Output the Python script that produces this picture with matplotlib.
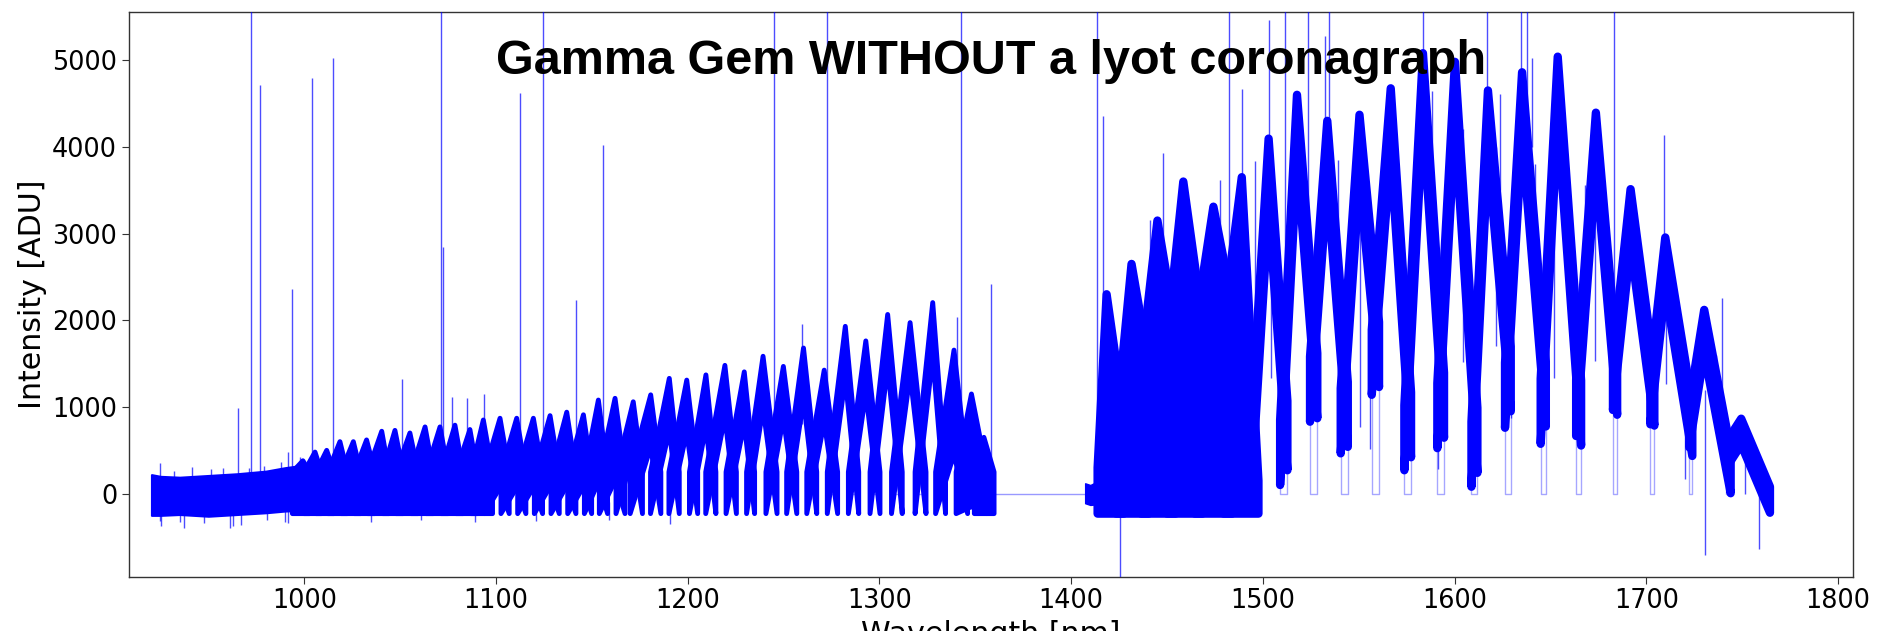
import matplotlib
matplotlib.use("Agg")
import matplotlib.pyplot as plt

# ---- spectrum data (wavelength in nm, intensity in ADU) ----

# 920-1000 nm: the orders blur into a single noise band
band_wl = [920.3, 925.0, 935.0, 950.0, 965.0, 980.0, 990.0, 1000.0]
band_hi = [220, 200, 190, 210, 230, 260, 300, 330]
band_lo = [-250, -250, -240, -260, -240, -220, -200, -190]

# zero fill over the detector gap, then a short noisy stretch
gap_wl = [1359.8, 1407.3]
tail_wl = [1407.3, 1410.0, 1414.5]
tail_hi = [120, 100, 150]
tail_lo = [-110, -130, -120]

# blue half: echelle orders (start, blaze peak, end) and peak counts
blue_start = [993.8, 999.8, 1006.1, 1012.2, 1019.1, 1026.1, 1033.0, 1040.9, 1047.8, 1055.6,
              1063.5, 1071.3, 1079.1, 1086.9, 1093.9, 1102.6, 1111.3, 1120.0, 1128.7, 1137.4,
              1146.1, 1153.9, 1162.6, 1170.0, 1180.6, 1190.2, 1200.9, 1209.4, 1220.0, 1230.7,
              1240.8, 1251.6, 1262.1, 1272.8, 1283.8, 1295.1, 1306.3, 1318.6, 1329.3, 1340.0,
              1349.5]
blue_peak_wl = [999.3, 1005.6, 1011.7, 1018.6, 1025.6, 1032.5, 1040.4, 1047.3, 1055.1, 1063.0,
                1070.8, 1078.6, 1086.4, 1093.4, 1102.1, 1110.8, 1119.5, 1128.2, 1136.9, 1145.6,
                1153.4, 1162.1, 1171.6, 1180.7, 1190.4, 1199.5, 1209.5, 1219.4, 1229.5, 1239.3,
                1249.9, 1260.4, 1271.2, 1282.2, 1292.9, 1304.3, 1316.0, 1327.8, 1338.9, 1348.0,
                1354.5]
blue_end = [1002.8, 1009.0, 1015.5, 1022.5, 1029.4, 1036.8, 1044.2, 1051.6, 1059.4, 1067.3,
            1075.1, 1082.9, 1090.3, 1098.2, 1106.9, 1115.6, 1124.3, 1133.0, 1141.7, 1149.9,
            1158.2, 1167.3, 1176.4, 1186.0, 1195.6, 1205.2, 1214.7, 1225.4, 1234.9, 1246.6,
            1256.9, 1267.3, 1278.2, 1289.2, 1300.3, 1311.9, 1324.3, 1334.5, 1346.0, 1356.0,
            1359.8]
blue_peak = [380, 480, 500, 600, 600, 620, 720, 730, 700, 770,
             770, 790, 740, 850, 870, 870, 870, 900, 940, 910,
             1080, 1100, 1060, 1140, 1330, 1310, 1370, 1480, 1405, 1585,
             1468, 1680, 1425, 1930, 1762, 2067, 1973, 2204, 1656, 1150,
             650]
blue_spread = [610, 710, 730, 830, 830, 850, 950, 960, 930, 1000,
               1000, 1020, 970, 1080, 800, 800, 800, 820, 850, 830,
               950, 950, 600, 600, 600, 600, 600, 600, 600, 600,
               600, 600, 600, 600, 600, 600, 600, 620, 1200, 1300,
               1100]
blue_edge = 250

# red half: orders 1414-1500 nm sit in the water band and fill down to the noise floor
red_start = [1413.8, 1423.5, 1436.5, 1450.0, 1464.5, 1479.5, 1493.3, 1509.0, 1524.6, 1540.6,
             1556.8, 1573.8, 1591.0, 1608.8, 1626.3, 1644.9, 1663.4, 1682.6, 1702.1, 1722.4,
             1741.8]
red_peak_wl = [1418.5, 1431.5, 1445.0, 1458.5, 1474.2, 1489.0, 1503.0, 1517.8, 1533.6, 1550.4,
               1566.7, 1583.5, 1600.2, 1617.4, 1635.2, 1653.8, 1673.7, 1691.8, 1709.9, 1730.2,
               1749.5]
red_end = [1427.5, 1440.5, 1454.5, 1468.5, 1484.0, 1497.7, 1512.8, 1528.4, 1544.3, 1560.6,
           1577.3, 1594.5, 1611.9, 1629.3, 1647.6, 1666.0, 1684.8, 1704.2, 1724.0, 1744.0,
           1764.5]
red_start_val = [300, 800, 1500, 1800, 1900, 2000, 600, 850, 1580, 1215,
                 1890, 1020, 1275, 830, 1510, 1325, 1315, 1615, 1400, 1035,
                 600]
red_peak = [2300, 2650, 3150, 3600, 3310, 3650, 4095, 4600, 4300, 4370,
            4675, 5080, 4980, 4650, 4860, 5040, 4394, 3512, 2955, 2120,
            865]
red_end_val = [900, 1500, 1900, 2000, 2200, 150, 1070, 1620, 1290, 1980,
               1170, 1395, 990, 1700, 1525, 1305, 1560, 1435, 1035, 505,
               80]
red_spread = [5000, 5000, 5000, 5000, 5000, 5000, 800, 750, 750, 750,
              750, 750, 750, 750, 750, 750, 650, 650, 600, 500,
              300]

noise_floor = -230

# cosmic rays, deep telluric lines and the strongest noise excursions
spike_wl = [965.3, 972.2, 976.7, 993.7, 1004.2, 1015.2, 1051.2, 1071.5, 1072.3, 1077.2,
            1085.0, 1093.6, 1112.5, 1124.6, 1141.7, 1155.8, 1245.0, 1259.5, 1272.6, 1340.3,
            1342.7, 1358.0, 1413.4, 1416.6, 1425.5, 1441.2, 1448.1, 1477.7, 1482.3, 1489.2,
            1495.7, 1503.0, 1504.0, 1511.6, 1523.7, 1527.1, 1532.5, 1534.6, 1550.6, 1555.9,
            1574.3, 1583.4, 1588.1, 1591.6, 1604.3, 1616.7, 1621.4, 1623.7, 1629.5, 1634.4,
            1637.8, 1640.5, 1641.7, 1651.9, 1665.5, 1670.7, 1673.3, 1683.0, 1709.3, 1710.3,
            1720.1, 1730.8, 1736.6, 1739.3, 1751.7, 1758.9, 1539.4, 1668.0,
            924.5, 935.0, 963.0, 990.0, 1035.0, 1061.0, 1089.0, 1121.0, 1159.0, 1191.0,
            924.7, 932.0, 941.6, 951.1, 957.7, 971.0, 979.0, 987.7, 991.5, 998.0,
            925.5, 937.1, 947.6, 961.1, 967.0, 980.6, 991.4]
spike_lo = [100, 100, 120, 150, 200, 250, 400, 400, 400, 400,
            400, 450, 450, 450, 500, 500, 600, 800, 600, 500,
            500, 100, 0, 0, -960, 1500, 1500, 2000, 2000, 3000,
            1500, 3500, 1330, 1000, 1500, 1430, 3500, 3500, 770, 520,
            900, 4000, 3500, 280, 1520, 4000, 1700, 3500, 870, 4200,
            4200, 4000, 2450, 1330, 1180, 3000, 1530, 1000, 2500, 1270,
            170, -710, 700, 800, 0, -640, 3000, 2800,
            -320, -330, -370, -330, -330, -300, -330, -320, -300, -350,
            150, 150, 150, 150, 150, 150, 150, 200, 250, 250,
            -375, -390, -340, -400, -360, -300, -340]
spike_hi = [990, 5600, 4710, 2365, 4790, 5020, 1320, 5600, 2840, 1120,
            1100, 1150, 4620, 5600, 2230, 4020, 5600, 1960, 5600, 2040,
            5600, 2420, 5600, 4360, 1000, 3160, 3930, 3620, 5600, 4670,
            3840, 5460, 3500, 5600, 5600, 2200, 5280, 5600, 4000, 2500,
            1800, 5600, 4640, 1900, 4200, 5600, 4000, 4610, 1900, 5600,
            5600, 5020, 3800, 4600, 1800, 3850, 4000, 5600, 4140, 2800,
            1500, 1200, 1600, 2260, 800, 300, 3850, 3560,
            -100, -100, -100, -100, -100, -100, -100, -100, -100, -100,
            357, 260, 306, 280, 300, 300, 320, 360, 475, 420,
            -200, -200, -200, -200, -200, -200, -200]

BLUE = "#0000ff"


def draw_orders(ax, starts, peaks_wl, ends, start_vals, peak_vals, end_vals, spreads, lw):
    """每个衍射级画成一条带状多边形，相邻级之间用 0 值的细线相连。"""
    lowers = []
    for s, p, e, vs, vp, ve, sp in zip(starts, peaks_wl, ends,
                                       start_vals, peak_vals, end_vals, spreads):
        upper = [vs, vp, ve]
        lower = [max(v - sp, noise_floor) for v in upper]
        lowers.append(lower)
        ax.fill([s, p, e, e, p, s], upper + lower[::-1], facecolor=BLUE,
                edgecolor=BLUE, linewidth=lw, joinstyle="round", zorder=2)

    # 级间的补零段
    for k in range(len(starts) - 1):
        ax.plot([ends[k], ends[k], starts[k + 1], starts[k + 1]],
                [lowers[k][2], 0, 0, lowers[k + 1][0]],
                color=BLUE, lw=1.0, alpha=0.35, zorder=1)


def main():
    plt.rcParams["font.family"] = ["DejaVu Sans"]

    fig = plt.figure(figsize=(18.81, 6.31), dpi=100)
    ax = fig.add_axes([0.0686, 0.0861, 0.9164, 0.8949])

    ax.fill_between(band_wl, band_lo, band_hi, color=BLUE, lw=1.5, zorder=2)
    ax.fill_between(tail_wl, tail_lo, tail_hi, color=BLUE, lw=1.0, zorder=2)
    ax.plot(gap_wl, [0, 0], color=BLUE, lw=1.0, alpha=0.4, zorder=1)

    n_blue = len(blue_start)
    draw_orders(ax, blue_start, blue_peak_wl, blue_end,
                [blue_edge] * n_blue, blue_peak, [blue_edge] * n_blue, blue_spread, lw=3.5)
    draw_orders(ax, red_start, red_peak_wl, red_end,
                red_start_val, red_peak, red_end_val, red_spread, lw=6.0)

    ax.vlines(spike_wl, spike_lo, spike_hi, color=BLUE, lw=1.0, alpha=0.7, zorder=3)

    ax.set_xlim(908.6, 1807.7)
    ax.set_ylim(-957, 5555)
    ax.set_xticks(range(1000, 1801, 100))
    ax.set_yticks(range(0, 5001, 1000))
    ax.tick_params(labelsize=18.4, length=5, color="#333333")
    for spine in ax.spines.values():
        spine.set_color("#333333")
        spine.set_linewidth(1.0)

    ax.set_xlabel("Wavelength [nm]", fontsize=21.6)
    ax.set_ylabel("Intensity [ADU]", fontsize=21.6)
    ax.text(0.5, 0.8895, "Gamma Gem WITHOUT a lyot coronagraph", transform=ax.transAxes,
            ha="center", va="baseline", fontsize=35, fontweight="bold",
            family=["Liberation Sans", "DejaVu Sans"], zorder=5)

    fig.savefig("out.png", dpi=100)
    plt.close(fig)


if __name__ == "__main__":
    main()
